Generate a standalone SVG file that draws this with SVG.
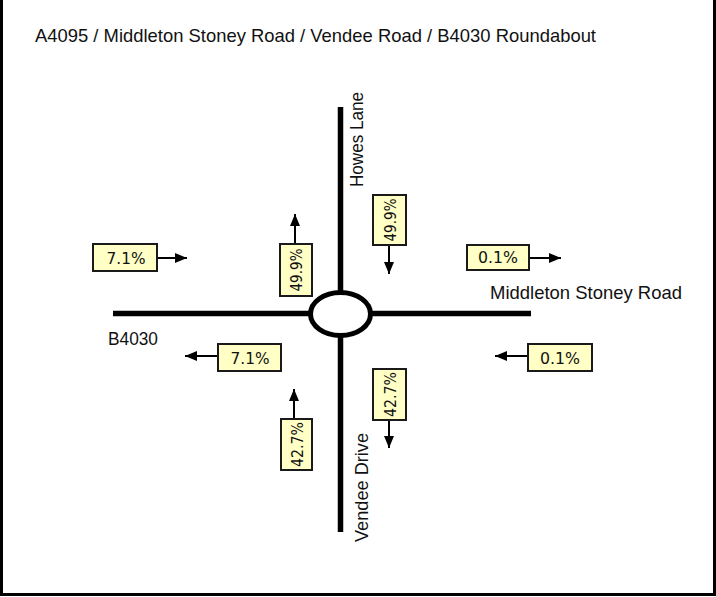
<svg xmlns="http://www.w3.org/2000/svg" width="716" height="597" viewBox="0 0 716 597">
<style>
.lbl{font-family:"Liberation Sans",Arial,sans-serif;font-size:19px;fill:#111}
.box{fill:#FFFFC6;stroke:#1a1a1a;stroke-width:2}
.pct{font-family:"DejaVu Sans",Verdana,sans-serif;font-size:16px;fill:#111;text-anchor:middle}
.arr{stroke:#000;stroke-width:2;fill:none;marker-end:url(#ah)}
.road{stroke:#000;stroke-width:5.5;fill:none}
</style>
<defs>
<marker id="ah" viewBox="0 0 12 10" refX="12" refY="5" markerWidth="12" markerHeight="10" markerUnits="userSpaceOnUse" orient="auto">
<path d="M0,0 L12,5 L0,10 z" fill="#000"/>
</marker>
</defs>
<rect width="716" height="597" fill="#fff"/>
<path d="M1.5,0 V594.5 H714.5 V0" fill="none" stroke="#000" stroke-width="3"/>
<text class="lbl" x="35" y="42" textLength="561" lengthAdjust="spacingAndGlyphs">A4095 / Middleton Stoney Road / Vendee Road / B4030 Roundabout</text>

<g id="roads">
<line class="road" x1="113" y1="313.5" x2="531" y2="313.5"/>
<line class="road" x1="340.5" y1="107" x2="340.5" y2="532"/>
<ellipse id="roundabout" cx="340.5" cy="314" rx="30" ry="21.5" fill="#fff" stroke="#000" stroke-width="5"/>
</g>

<g id="road-labels">
<text class="lbl" transform="translate(363,187) rotate(-90)" textLength="95" lengthAdjust="spacingAndGlyphs">Howes Lane</text>
<text class="lbl" x="490" y="299" textLength="192" lengthAdjust="spacingAndGlyphs">Middleton Stoney Road</text>
<text class="lbl" x="108" y="345" textLength="50" lengthAdjust="spacingAndGlyphs">B4030</text>
<text class="lbl" transform="translate(368,542) rotate(-90)" textLength="109" lengthAdjust="spacingAndGlyphs">Vendee Drive</text>
</g>

<g id="connectors">
<line class="arr" x1="157" y1="258" x2="187" y2="258"/>
<line class="arr" x1="295" y1="244" x2="295" y2="214"/>
<line class="arr" x1="389" y1="245" x2="389" y2="274"/>
<line class="arr" x1="529" y1="258" x2="561" y2="258"/>
<line class="arr" x1="218" y1="356" x2="185" y2="356"/>
<line class="arr" x1="294" y1="419" x2="294" y2="389"/>
<line class="arr" x1="528" y1="356" x2="495" y2="356"/>
<line class="arr" x1="389" y1="420" x2="389" y2="448"/>
</g>

<g id="w-in">
<rect class="box" x="93" y="244" width="64" height="27"/>
<text class="pct" x="126" y="263.5" textLength="39" lengthAdjust="spacingAndGlyphs">7.1%</text>
</g>
<g id="n-out">
<rect class="box" x="280" y="244" width="32" height="52"/>
<text class="pct" transform="translate(296,270) rotate(-90)" x="0" y="6" textLength="43" lengthAdjust="spacingAndGlyphs">49.9%</text>
</g>
<g id="n-in">
<rect class="box" x="373" y="195" width="33" height="50"/>
<text class="pct" transform="translate(389.5,220) rotate(-90)" x="0" y="6" textLength="43" lengthAdjust="spacingAndGlyphs">49.9%</text>
</g>
<g id="e-out">
<rect class="box" x="467" y="245" width="62" height="25"/>
<text class="pct" x="498" y="263" textLength="40" lengthAdjust="spacingAndGlyphs">0.1%</text>
</g>
<g id="w-out">
<rect class="box" x="218" y="344" width="63" height="27"/>
<text class="pct" x="250" y="363.5" textLength="39" lengthAdjust="spacingAndGlyphs">7.1%</text>
</g>
<g id="s-out">
<rect class="box" x="281" y="419" width="31" height="51"/>
<text class="pct" transform="translate(296.5,444.5) rotate(-90)" x="0" y="6" textLength="45" lengthAdjust="spacingAndGlyphs">42.7%</text>
</g>
<g id="e-in">
<rect class="box" x="528" y="344" width="64" height="27"/>
<text class="pct" x="560" y="363.5" textLength="40" lengthAdjust="spacingAndGlyphs">0.1%</text>
</g>
<g id="s-in">
<rect class="box" x="373" y="369" width="33" height="51"/>
<text class="pct" transform="translate(389.5,394.5) rotate(-90)" x="0" y="6" textLength="45" lengthAdjust="spacingAndGlyphs">42.7%</text>
</g>
</svg>
